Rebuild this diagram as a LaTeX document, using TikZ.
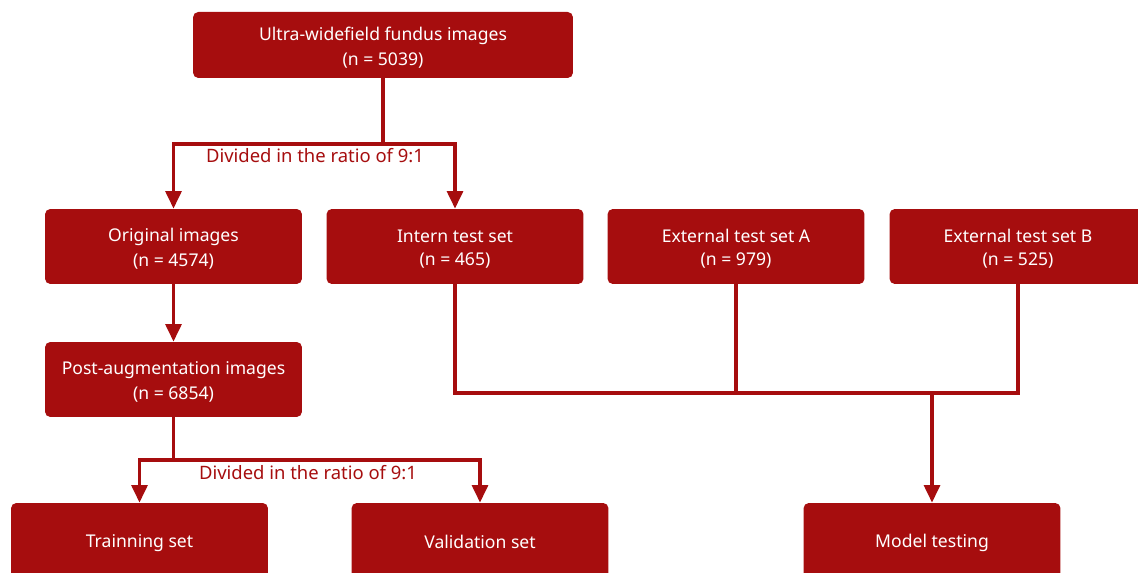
\documentclass[tikz,border=0pt]{standalone}
\usepackage{fontspec}
\setmainfont{Noto Sans}
\usetikzlibrary{arrows.meta}
\definecolor{boxred}{RGB}{166,13,14}
\newcommand\bstrut{\rule[-2.2pt]{0pt}{13pt}}
\begin{document}
\begin{tikzpicture}[x=0.02cm,y=-0.02cm,
    font=\fontsize{10}{13}\selectfont,
    box/.style={fill=boxred, text=white, rounded corners=3pt, align=center,
      minimum width=5.14cm, minimum height=1.5cm, inner sep=0pt},
    link/.style={draw=boxred, line width=2pt},
    arr/.style={link, -{Triangle[width=9pt,length=10pt]}},
    lbl/.style={text=boxred, inner sep=0pt, font=\fontsize{10.5}{13}\selectfont}]
  \path[use as bounding box, clip] (0,0) rectangle (1138,573);
  % boxes
  \node[box, minimum width=7.6cm, minimum height=1.32cm] (uwf) at (383,45)
    {Ultra-widefield fundus images\bstrut\\(n = 5039)\bstrut};
  \node[box] (orig) at (173.5,246.5) {Original images\bstrut\\(n = 4574)\bstrut};
  \node[box] (intern) at (455,246.5) {Intern test set\bstrut\\(n = 465)\bstrut};
  \node[box] (exta) at (736,246.5) {External test set A\bstrut\\(n = 979)\bstrut};
  \node[box] (extb) at (1018,246.5) {External test set B\bstrut\\(n = 525)\bstrut};
  \node[box] (post) at (173.5,379.5) {Post-augmentation images\bstrut\\(n = 6854)\bstrut};
  \node[box] (train) at (139.5,540.5) {Trainning set\bstrut};
  \node[box] (valid) at (480,540.5) {Validation set\bstrut};
  \node[box] (model) at (932,540.5) {Model testing\bstrut};
  % branch points
  \coordinate (s1) at (383,144);
  \coordinate (s2) at (173.5,460);
  \coordinate (s3) at (932,393);
  % connectors
  \draw[link] (uwf) -- (s1);
  \draw[arr] (s1) -| (orig);
  \draw[arr] (s1) -| (intern);
  \node[lbl] at (315,158) {Divided in the ratio of 9:1\strut};
  \draw[arr] (orig) -- (post);
  \draw[link] (post) -- (s2);
  \draw[arr] (s2) -| (train);
  \draw[arr] (s2) -| (valid);
  \node[lbl] at (308,475) {Divided in the ratio of 9:1\strut};
  \draw[link] (intern.south) |- (s3);
  \draw[link] (exta.south) |- (s3);
  \draw[link] (extb.south) |- (s3);
  \draw[arr] (s3) -- (model);
\end{tikzpicture}
\end{document}
